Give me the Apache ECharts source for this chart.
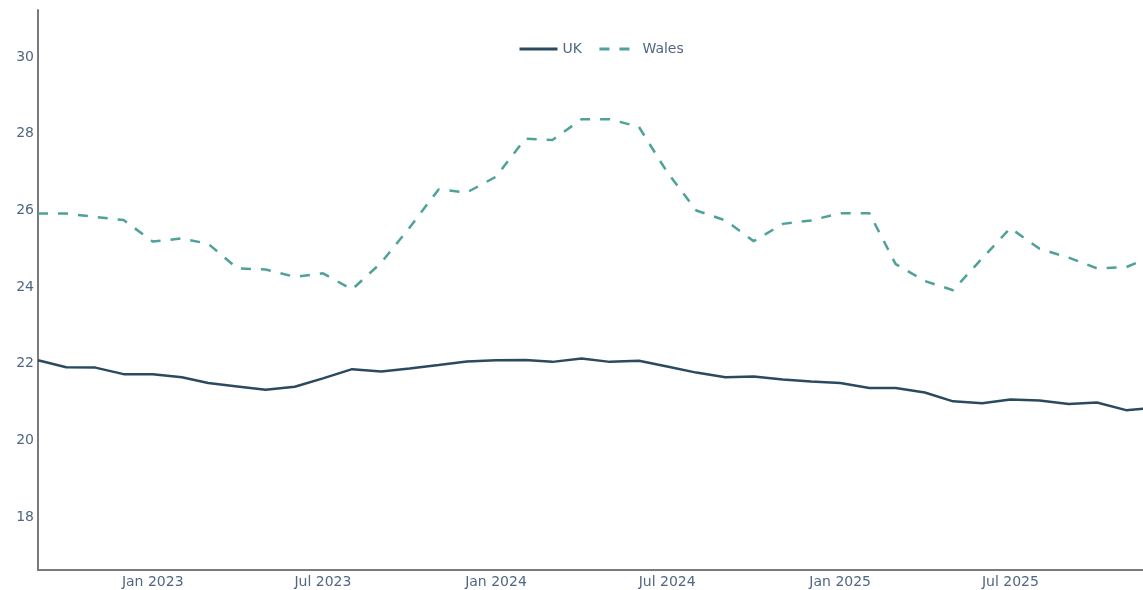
<!DOCTYPE html>
<html>
<head>
<meta charset="utf-8">
<script src="https://cdn.jsdelivr.net/npm/echarts@6/dist/echarts.min.js"></script>
<style>
html,body{margin:0;padding:0;background:#fff;}
#chart{width:1143px;height:590px;}
</style>
</head>
<body>
<div id="chart"></div>
<script>
// Monthly observations, Sep 2022 .. Dec 2025
var months = [
  '2022-09-01','2022-10-01','2022-11-01','2022-12-01',
  '2023-01-01','2023-02-01','2023-03-01','2023-04-01','2023-05-01','2023-06-01',
  '2023-07-01','2023-08-01','2023-09-01','2023-10-01','2023-11-01','2023-12-01',
  '2024-01-01','2024-02-01','2024-03-01','2024-04-01','2024-05-01','2024-06-01',
  '2024-07-01','2024-08-01','2024-09-01','2024-10-01','2024-11-01','2024-12-01',
  '2025-01-01','2025-02-01','2025-03-01','2025-04-01','2025-05-01','2025-06-01',
  '2025-07-01','2025-08-01','2025-09-01','2025-10-01','2025-11-01','2025-12-01'
];
var ukValues = [
  22.09,21.91,21.90,21.73,21.73,21.65,21.50,21.41,21.32,21.40,
  21.62,21.86,21.80,21.88,21.97,22.06,22.09,22.10,22.05,22.14,
  22.05,22.08,21.93,21.77,21.65,21.67,21.59,21.54,21.50,21.37,
  21.37,21.25,21.02,20.97,21.07,21.04,20.95,20.99,20.79,20.85
];
var walesValues = [
  25.92,25.92,25.83,25.75,25.19,25.27,25.13,24.49,24.46,24.27,
  24.36,23.94,24.64,25.55,26.55,26.47,26.88,27.87,27.84,28.38,
  28.38,28.18,27.00,26.00,25.74,25.20,25.65,25.74,25.93,25.93,
  24.60,24.16,23.92,24.75,25.54,25.00,24.77,24.49,24.52,24.82
];
var seriesNames = ['UK','Wales'];
var yTickValues = [18,20,22,24,26,28,30];
var xTickDates = ['2023-01-01','2023-07-01','2024-01-01','2024-07-01','2025-01-01','2025-07-01'];
var xRange = ['2022-09-01','2025-11-19'];
var monthNames = ['Jan','Feb','Mar','Apr','May','Jun','Jul','Aug','Sep','Oct','Nov','Dec'];

function ts(s){ var p=s.split('-'); return Date.UTC(+p[0], +p[1]-1, +p[2]); }
function pairs(vals){ return months.map(function(m,i){ return [ts(m), vals[i]]; }); }

var chart = echarts.init(document.getElementById('chart'), null, {renderer:'canvas'});
var labelColor = '#506784';
var fontFam = 'DejaVu Sans, Verdana, sans-serif';
var ukColor = '#2b4a5f', walesColor = '#4fa19a';
chart.setOption({
  animation:false,
  backgroundColor:'#ffffff',
  grid:{left:38,right:0,top:10,bottom:20,containLabel:false},
  legend:{
    data:seriesNames,
    top:37,
    left:513,
    itemWidth:38,
    itemHeight:14,
    itemGap:16,
    itemStyle:{opacity:0},
    lineStyle:{width:3},
    textStyle:{color:labelColor,fontSize:14,fontFamily:fontFam}
  },
  xAxis:{
    type:'value',
    min:ts(xRange[0]),
    max:ts(xRange[1]),
    axisLine:{show:true,onZero:false,lineStyle:{color:'#7a7a7a',width:2}},
    axisTick:{show:false},
    splitLine:{show:false},
    axisLabel:{
      customValues:xTickDates.map(ts),
      color:labelColor,fontSize:14,fontFamily:fontFam,margin:5,
      formatter:function(v){var d=new Date(v);return monthNames[d.getUTCMonth()]+' '+d.getUTCFullYear();}
    }
  },
  yAxis:{
    type:'value',
    min:16.62,
    max:31.23,
    axisLine:{show:true,onZero:false,lineStyle:{color:'#7a7a7a',width:2}},
    axisTick:{show:false},
    splitLine:{show:false},
    axisLabel:{
      customValues:yTickValues,
      color:labelColor,fontSize:14,fontFamily:fontFam,margin:4
    }
  },
  series:[
    {
      name:seriesNames[0],type:'line',data:pairs(ukValues),
      showSymbol:false,symbol:'none',clip:true,
      lineStyle:{color:ukColor,width:2.5},
      itemStyle:{color:ukColor}
    },
    {
      name:seriesNames[1],type:'line',data:pairs(walesValues),
      showSymbol:false,symbol:'none',clip:true,
      lineStyle:{color:walesColor,width:2.5,type:[10,10]},
      itemStyle:{color:walesColor}
    }
  ]
});
</script>
</body>
</html>
